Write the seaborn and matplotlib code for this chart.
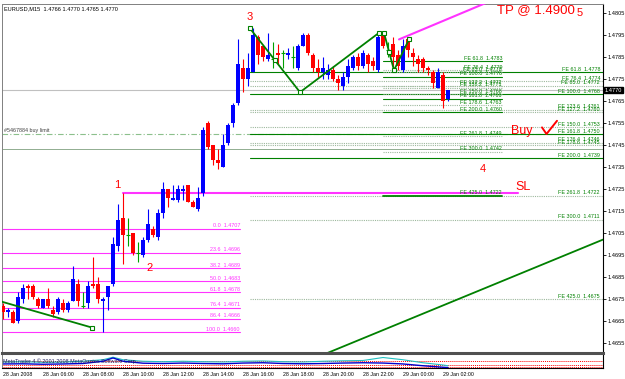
import matplotlib
matplotlib.use("Agg")
import matplotlib.pyplot as plt
import matplotlib.transforms as mtransforms
import numpy as np
import pandas as pd
import seaborn as sns

sns.set_style("white")
plt.rcParams['font.family'] = ['Liberation Sans', 'DejaVu Sans']

# ---------------- data ----------------
symbol = "EURUSD,M15"

opens = [1.4672, 1.4669, 1.4669, 1.4665, 1.4675, 1.4681, 1.4681, 1.4675, 1.4671, 1.4675,
         1.4670, 1.4669, 1.4673, 1.4670, 1.4674, 1.4682, 1.4672, 1.4673, 1.4682, 1.4682,
         1.4674, 1.4676, 1.4682, 1.4699, 1.4712, 1.4704, 1.4705, 1.4696, 1.4695, 1.4702,
         1.4707, 1.4703, 1.4714, 1.4725, 1.4720, 1.4720, 1.4724, 1.4727, 1.4719, 1.4716,
         1.4723, 1.4755, 1.4745, 1.4738, 1.4735, 1.4746, 1.4755, 1.4764, 1.4780, 1.4775,
         1.4778, 1.4794, 1.4790, 1.4784, 1.4784, 1.4787, 1.4787, 1.4786, 1.4785, 1.4780,
         1.4790, 1.4795, 1.4786, 1.4780, 1.4778, 1.4777, 1.4779, 1.4775, 1.4772, 1.4776,
         1.4780, 1.4785, 1.4781, 1.4786, 1.4783, 1.4779, 1.4795, 1.4788, 1.4791, 1.4786,
         1.4779, 1.4793, 1.4787, 1.4784, 1.4784, 1.4780, 1.4778, 1.4771, 1.4777, 1.4766]
highs = [1.4673, 1.4671, 1.4670, 1.4678, 1.4682, 1.4682, 1.4682, 1.4676, 1.4675, 1.4680,
         1.4672, 1.4676, 1.4675, 1.4674, 1.4690, 1.4684, 1.4678, 1.4683, 1.4694, 1.4685,
         1.4676, 1.4681, 1.4703, 1.4718, 1.4723, 1.4712, 1.4705, 1.4701, 1.4703, 1.4716,
         1.4708, 1.4716, 1.4728, 1.4725, 1.4727, 1.4727, 1.4727, 1.4727, 1.4720, 1.4726,
         1.4753, 1.4756, 1.4745, 1.4743, 1.4750, 1.4755, 1.4764, 1.4793, 1.4784, 1.4787,
         1.4798, 1.4795, 1.4790, 1.4796, 1.4792, 1.4791, 1.4788, 1.4789, 1.4790, 1.4791,
         1.4796, 1.4796, 1.4787, 1.4784, 1.4785, 1.4782, 1.4781, 1.4777, 1.4778, 1.4784,
         1.4786, 1.4787, 1.4788, 1.4787, 1.4785, 1.4795, 1.4796, 1.4792, 1.4794, 1.4788,
         1.4793, 1.4794, 1.4789, 1.4786, 1.4785, 1.4781, 1.4779, 1.4780, 1.4778, 1.4770]
lows = [1.4666, 1.4667, 1.4664, 1.4664, 1.4673, 1.4675, 1.4675, 1.4671, 1.4671, 1.4671,
        1.4667, 1.4668, 1.4669, 1.4669, 1.4674, 1.4672, 1.4671, 1.4671, 1.4680, 1.4673,
        1.4660, 1.4670, 1.4681, 1.4697, 1.4691, 1.4699, 1.4695, 1.4692, 1.4694, 1.4701,
        1.4703, 1.4702, 1.4712, 1.4717, 1.4720, 1.4719, 1.4720, 1.4719, 1.4717, 1.4715,
        1.4722, 1.4743, 1.4736, 1.4734, 1.4735, 1.4745, 1.4753, 1.4763, 1.4769, 1.4772,
        1.4778, 1.4782, 1.4783, 1.4783, 1.4780, 1.4782, 1.4780, 1.4784, 1.4780, 1.4779,
        1.4790, 1.4786, 1.4778, 1.4776, 1.4775, 1.4775, 1.4774, 1.4770, 1.4770, 1.4773,
        1.4779, 1.4779, 1.4780, 1.4778, 1.4779, 1.4778, 1.4789, 1.4785, 1.4779, 1.4779,
        1.4778, 1.4785, 1.4781, 1.4778, 1.4778, 1.4777, 1.4771, 1.4771, 1.4762, 1.4765]
closes = [1.4669, 1.4670, 1.4664, 1.4676, 1.4680, 1.4680, 1.4676, 1.4672, 1.4675, 1.4672,
          1.4668, 1.4675, 1.4670, 1.4673, 1.4684, 1.4674, 1.4672, 1.4681, 1.4681, 1.4675,
          1.4675, 1.4681, 1.4700, 1.4711, 1.4704, 1.4704, 1.4696, 1.4696, 1.4702, 1.4709,
          1.4704, 1.4714, 1.4725, 1.4721, 1.4721, 1.4725, 1.4725, 1.4719, 1.4717, 1.4721,
          1.4752, 1.4744, 1.4738, 1.4737, 1.4745, 1.4754, 1.4763, 1.4782, 1.4775, 1.4780,
          1.4795, 1.4786, 1.4785, 1.4786, 1.4784, 1.4786, 1.4787, 1.4787, 1.4785, 1.4790,
          1.4795, 1.4787, 1.4780, 1.4778, 1.4780, 1.4779, 1.4775, 1.4773, 1.4776, 1.4781,
          1.4785, 1.4781, 1.4787, 1.4782, 1.4781, 1.4794, 1.4790, 1.4788, 1.4785, 1.4781,
          1.4790, 1.4788, 1.4785, 1.4782, 1.4780, 1.4779, 1.4773, 1.4778, 1.4765, 1.4770]

time_labels = ["28 Jan 2008", "28 Jan 06:00", "28 Jan 08:00", "28 Jan 10:00",
               "28 Jan 12:00", "28 Jan 14:00", "28 Jan 16:00", "28 Jan 18:00",
               "28 Jan 20:00", "28 Jan 22:00", "29 Jan 00:00", "29 Jan 02:00"]
time_label_bars = [0, 8, 16, 24, 32, 40, 48, 56, 64, 72, 80, 88]

price_ticks = [1.4805, 1.4795, 1.4785, 1.4775, 1.4765, 1.4755, 1.4745, 1.4735,
               1.4725, 1.4715, 1.4705, 1.4695, 1.4685, 1.4675, 1.4665, 1.4655]
bid_price = 1.4770

fib_levels = ["0.0", "23.6", "38.2", "50.0", "61.8", "76.4", "86.4", "100.0"]
fib_prices = [1.4707, 1.4696, 1.4689, 1.4683, 1.4678, 1.4671, 1.4666, 1.4660]

feA_levels = ["61.8", "76.4", "85.0", "100.0", "127.2", "138.2", "150.0", "161.8",
              "178.6", "200.0", "261.8", "300.0", "425.0"]
feA_prices = [1.4783, 1.4779, 1.4778, 1.4776, 1.4772, 1.4771, 1.4768, 1.4766,
              1.4763, 1.4760, 1.4749, 1.4742, 1.4722]

feB_levels = ["61.8", "76.4", "85.0", "100.0", "123.6", "127.2", "150.0", "161.8",
              "176.4", "178.6", "200.0", "261.8", "300.0", "425.0"]
feB_prices = [1.4778, 1.4774, 1.4772, 1.4768, 1.4761, 1.4760, 1.4753, 1.4750,
              1.4746, 1.4745, 1.4739, 1.4722, 1.4711, 1.4675]

buy_limit_price = 1.4750
buy_limit_label = "#5467884 buy limit"
hline_price = 1.4743
sl_price = 1.4723

trend_left_bars = [-0.6, 17.8]
trend_left_prices = [1.4674, 1.4662]
zzB_bars = [49.4, 59.4, 75.2]
zzB_prices = [1.4798, 1.4769, 1.4796]
zzA_bars = [76.2, 78.2, 81.2]
zzA_prices = [1.4796, 1.4779, 1.4793]
tp_bars = [79.2, 98.6]
tp_prices = [1.4793, 1.48115]
ray_bars = [64.4, 120.0]
ray_prices = [1.4650, 1.4702]
check_bars = [107.8, 108.7, 110.8]
check_prices = [1.4753, 1.4750, 1.4756]

ind_bars = [0, 4, 8, 12, 16, 20, 22, 24, 28, 32, 36, 40, 44, 48, 52, 56, 60, 64, 68, 72, 76, 80, 84, 88, 89]
ind_blue = [27, 28, 25, 27, 30, 45, 67, 45, 32, 30, 33, 30, 28, 33, 35, 30, 28, 30, 33, 35, 33, 27, 15, 5, 3]
ind_cyan = [40, 42, 38, 40, 45, 55, 72, 55, 45, 42, 45, 42, 40, 45, 47, 42, 40, 45, 48, 50, 70, 55, 35, 20, 15]
ind_levels = [45, 22, 5]

# ---------------- figure ----------------
W, H = 625, 379
fig = plt.figure(figsize=(W / 100, H / 100), dpi=100)
ax = fig.add_axes([2 / W, 27 / H, 601 / W, 348 / H])
axi = fig.add_axes([2 / W, 11 / H, 601 / W, 15 / H], sharex=ax)

ax.set_xlim(-0.2, 120)
ax.set_ylim(1.46509, 1.48091)

small = 4.1
lab = 3.9
GREEN = '#008000'
DOT = '#9DB89D'
MAG = '#FF33FF'
RED = '#FF0000'

df = pd.DataFrame({'open': opens, 'high': highs, 'low': lows, 'close': closes})
df['bar'] = np.arange(len(df))
colors = np.where(df.close > df.open, '#0000FF', np.where(df.close < df.open, RED, '#00A000'))


def hseg(price, x0, x1, color, ls='-', lw=0.7, z=1):
    ax.plot([x0, x1], [price, price], color=color, ls=ls, lw=lw, zorder=z)


# bid line & other full-width lines
hseg(bid_price, -0.2, 120, '#C0C0C0', '-', 0.8)
hseg(buy_limit_price, -0.2, 120, '#8CC08C', (0, (5, 2, 1, 2)), 0.8)
hseg(hline_price, -0.2, 120, '#7FA07F', '-', 0.6)
ax.text(0.3, buy_limit_price + 0.00003, buy_limit_label, fontsize=lab,
        color='#404040', ha='left', va='bottom')

# Fibo retracement (magenta)
for lvl, p in zip(fib_levels, fib_prices):
    hseg(p, -0.2, 47.4, MAG, '-', 0.8)
    ax.text(47.4, p + 0.00002, f"{lvl}  {p:.4f}", fontsize=lab, color=MAG,
            ha='right', va='bottom')

# SL level line
hseg(sl_price, 24, 103, MAG, '-', 1.5, 2)

solid_levels = {"61.8", "100.0", "161.8", "200.0"}
# FE set B (long)
for lvl, p in zip(feB_levels, feB_prices):
    if lvl in solid_levels:
        hseg(p, 49.4, 120, GREEN, '-', 0.8)
    else:
        hseg(p, 49.4, 120, DOT, (0, (1, 1)), 0.8)
    ax.text(119.4, p + 0.00002, f"FE {lvl}  {p:.4f}", fontsize=lab, color=GREEN,
            ha='right', va='bottom')
# FE set A (short)
for lvl, p in zip(feA_levels, feA_prices):
    if lvl in solid_levels or lvl == "425.0":
        hseg(p, 76.0, 99.8, GREEN, '-', 0.8 if lvl != "425.0" else 1.3)
    else:
        hseg(p, 76.0, 99.8, DOT, (0, (1, 1)), 0.8)
    ax.text(99.8, p + 0.00002, f"FE {lvl}  {p:.4f}", fontsize=lab, color=GREEN,
            ha='right', va='bottom')

# candles
ax.vlines(df.bar, df.low, df.high, colors=colors, linewidth=0.8, zorder=3)
body_bottom = np.minimum(df.open, df.close)
body_h = np.abs(df.close - df.open)
ax.bar(df.bar, body_h, bottom=body_bottom, width=0.7, color=colors, linewidth=0, zorder=4)
dj = df[df.close == df.open]
ax.hlines(dj.close, dj.bar - 0.4, dj.bar + 0.4, colors='#00A000', linewidth=0.8, zorder=4)

# zigzags / trendlines
zz = dict(color=GREEN, lw=1.3, zorder=5, estimator=None, sort=False, legend=False)
sns.lineplot(x=trend_left_bars, y=trend_left_prices, ax=ax, **zz)
sns.lineplot(x=zzB_bars, y=zzB_prices, ax=ax, **zz)
sns.lineplot(x=zzA_bars, y=zzA_prices, ax=ax, **zz)
sns.lineplot(x=ray_bars, y=ray_prices, ax=ax, **zz)
mk = dict(marker='s', ms=2.6, mfc='white', mec=GREEN, mew=0.8, ls='none', zorder=6)
ax.plot([trend_left_bars[1]], [trend_left_prices[1]], **mk)
ax.plot([zzB_bars[0], (zzB_bars[0] + zzB_bars[1]) / 2, zzB_bars[1], zzB_bars[2]],
        [zzB_prices[0], (zzB_prices[0] + zzB_prices[1]) / 2, zzB_prices[1], zzB_prices[2]], **mk)
ax.plot([zzA_bars[0], (zzA_bars[0] + zzA_bars[1]) / 2, zzA_bars[1], zzA_bars[2]],
        [zzA_prices[0], (zzA_prices[0] + zzA_prices[1]) / 2, zzA_prices[1], zzA_prices[2]], **mk)
sns.lineplot(x=tp_bars, y=tp_prices, ax=ax, color=MAG, lw=1.5, zorder=5,
             estimator=None, sort=False, legend=False)
ax.plot(check_bars, check_prices, color=RED, lw=1.4, zorder=6, solid_capstyle='round')

# red annotations
rf = dict(color=RED, ha='center', va='center', zorder=7)
ax.text(106.6, 1.48065, "TP @ 1.4900", fontsize=9.5, **rf)
ax.text(115.4, 1.48050, "5", fontsize=8, **rf)
ax.text(49.4, 1.48030, "3", fontsize=8, **rf)
ax.text(22.8, 1.47270, "1", fontsize=8, **rf)
ax.text(29.4, 1.46890, "2", fontsize=8, **rf)
ax.text(96.0, 1.47340, "4", fontsize=8, **rf)
ax.text(104.0, 1.47260, "SL", fontsize=9, **rf)
ax.text(103.8, 1.47515, "Buy", fontsize=9, **rf)

# header
last = df.iloc[-1]
ax.text(0.004, 0.994, f"{symbol}  {last.open:.4f} {last.high:.4f} {last.low:.4f} {last.close:.4f}",
        transform=ax.transAxes, fontsize=small, color='black', ha='left', va='top')

# price axis
ax.yaxis.tick_right()
ax.set_yticks(price_ticks)
ax.set_yticklabels([f"{p:.4f}" for p in price_ticks], fontsize=small)
ax.tick_params(axis='y', direction='out', length=2, width=0.6, pad=1.0, colors='black')
ax.tick_params(axis='x', bottom=False, labelbottom=False)
tr = mtransforms.blended_transform_factory(ax.transAxes, ax.transData)
ax.text(1.0025, bid_price, f"{bid_price:.4f}", transform=tr, fontsize=small, color='white',
        ha='left', va='center', zorder=8,
        bbox=dict(boxstyle='square,pad=0.15', fc='black', ec='black'))

for s in ['left', 'top']:
    ax.spines[s].set_linestyle((0, (1, 1)))
    ax.spines[s].set_color('#808080')
    ax.spines[s].set_linewidth(0.7)
ax.spines['right'].set_color('black')
ax.spines['right'].set_linewidth(0.8)
ax.spines['bottom'].set_visible(False)

# indicator window
axi.set_ylim(0, 100)
for lv in ind_levels:
    axi.axhline(lv, color=RED, ls=(0, (1, 1)), lw=0.7)
sns.lineplot(x=ind_bars, y=ind_cyan, ax=axi, color='#20C0C0', lw=0.8, estimator=None,
             sort=False, legend=False)
sns.lineplot(x=ind_bars, y=ind_blue, ax=axi, color='#0000CC', lw=1.0, estimator=None,
             sort=False, legend=False)
axi.text(0.002, 0.45, "MetaTrader 4 \u00a9 2001-2008 MetaQuotes Software Corp.",
         transform=axi.transAxes, fontsize=lab, color='#202060', ha='left', va='center')
axi.set_yticks([])
axi.set_ylabel('')
axi.set_xticks(time_label_bars)
axi.set_xticklabels(time_labels, fontsize=3.8)
for t in axi.get_xticklabels():
    t.set_horizontalalignment('left')
axi.tick_params(axis='x', direction='out', length=2, width=0.6, pad=1.2, colors='black')
axi.spines['top'].set_linestyle((0, (1, 1)))
axi.spines['top'].set_linewidth(2.2)
axi.spines['top'].set_color('#505050')
axi.spines['left'].set_linestyle((0, (1, 1)))
axi.spines['left'].set_color('#808080')
axi.spines['left'].set_linewidth(0.7)
axi.spines['right'].set_color('black')
axi.spines['bottom'].set_color('black')
axi.spines['right'].set_linewidth(0.8)
axi.spines['bottom'].set_linewidth(0.8)
axi.set_xlim(-0.2, 120)
ax.set_xlabel('')
axi.set_xlabel('')

fig.savefig("out.png", dpi=100)
